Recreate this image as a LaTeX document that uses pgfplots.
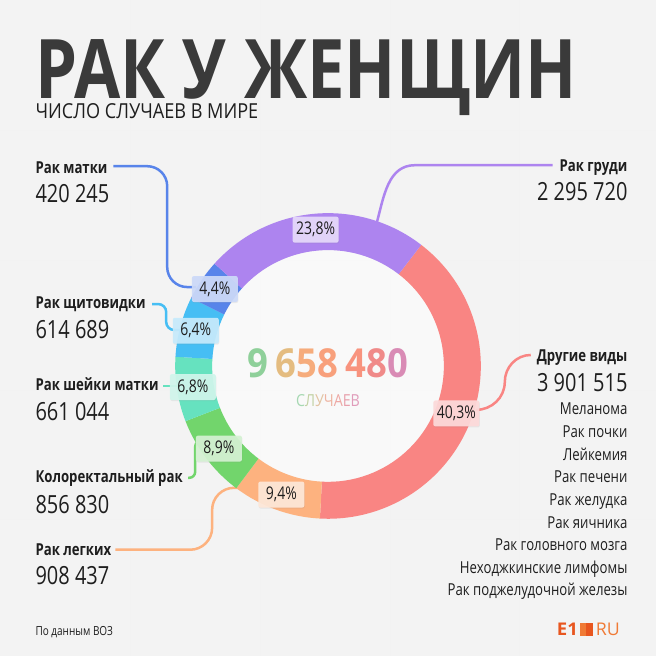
\documentclass[border=0pt]{standalone}
\usepackage{pgfplots}
\pgfplotsset{compat=1.18}
\usepackage{pgfplotstable}
\usepackage{fontspec}
\usepackage{graphicx}
\setmainfont{Open Sans}[FakeStretch=0.8]
\usetikzlibrary{shadows}

\definecolor{bg}{HTML}{F3F3F3}
\definecolor{ttl}{HTML}{3A3A3A}
\definecolor{txt}{HTML}{1E1E1E}
\definecolor{cOther}{HTML}{F98583}
\definecolor{cLung}{HTML}{FDB27F}
\definecolor{cColo}{HTML}{72D56C}
\definecolor{cCerv}{HTML}{66E2BF}
\definecolor{cThyr}{HTML}{46BEF4}
\definecolor{cUter}{HTML}{5884EA}
\definecolor{cBreast}{HTML}{AD84EF}
\definecolor{eone}{HTML}{E8561F}
\definecolor{etwo}{HTML}{F07A35}

% cases of cancer in women (world), clockwise from the top-right
\pgfplotstableread{
key value
Other 3901515
Lung 908437
Colo 856830
Cerv 661044
Thyr 614689
Uter 420245
Breast 2295720
}\cancertable

\gdef\total{0}
\pgfplotstableforeachcolumnelement{value}\of\cancertable\as\v{\xdef\total{\fpeval{\total+\v}}}
\gdef\cur{52.4}
\newcommand\setangle[2]{%
  \pgfplotstablegetelem{#1}{value}\of\cancertable
  \edef\tmpv{\pgfplotsretval}%
  \expandafter\xdef\csname s#2\endcsname{\cur}%
  \xdef\cur{\fpeval{\cur-360*\tmpv/\total}}%
  \expandafter\xdef\csname e#2\endcsname{\cur}%
  \expandafter\xdef\csname m#2\endcsname{\fpeval{(\csname s#2\endcsname+\cur)/2}}%
}
\setangle{0}{Other}\setangle{1}{Lung}\setangle{2}{Colo}\setangle{3}{Cerv}
\setangle{4}{Thyr}\setangle{5}{Uter}\setangle{6}{Breast}

\def\cx{328}\def\cy{366}
\def\Ro{153bp}\def\Ri{116bp}\def\thick{37bp}
\newcommand\seg[2]{%
  \fill[#2] (axis cs:\cx,\cy) ++(\csname s#1\endcsname:\Ro)
    arc[start angle=\csname s#1\endcsname, end angle=\csname e#1\endcsname, radius=\Ro]
    -- ++(\csname e#1\endcsname+180:\thick)
    arc[start angle=\csname e#1\endcsname, end angle=\csname s#1\endcsname, radius=\Ri] -- cycle;}
\newcommand\plabel[3]{%
  \path (axis cs:\cx,\cy) ++(\csname m#1\endcsname:137bp) node[fill=white!70!#2, fill opacity=0.92, text opacity=1,
    rounded corners=2bp, minimum width=46bp, minimum height=26bp, inner sep=0pt, text=txt,
    drop shadow={opacity=0.12, shadow xshift=0.5bp, shadow yshift=-1bp},
    font=\fontsize{17.5bp}{19bp}\selectfont] {#3};}
\newcommand\lab[3]{\node[anchor=base #1, inner sep=0pt, text=txt, font=\fontsize{16.5bp}{18bp}\selectfont\bfseries] at (axis cs:#2) {#3};}
\newcommand\val[3]{\node[anchor=base #1, inner sep=0pt, text=txt, font=\fontsize{25bp}{28bp}\selectfont] at (axis cs:#2) {#3};}
\newcommand\itm[2]{\node[anchor=base east, inner sep=0pt, text=txt, font=\fontsize{16.5bp}{18bp}\selectfont] at (axis cs:628,#1) {#2};}

\begin{document}
\begin{tikzpicture}
\begin{axis}[
  x=1bp, y=1bp, y dir=reverse,
  xmin=0, xmax=656, ymin=0, ymax=656,
  hide axis, clip=false,
]
\fill[bg] (axis cs:0,0) rectangle (axis cs:656,656);
% faint background grid
\draw[black!5, line width=0.8bp] (axis cs:130,0) -- (axis cs:130,656) (axis cs:260,0) -- (axis cs:260,656)
  (axis cs:390,0) -- (axis cs:390,656) (axis cs:520,0) -- (axis cs:520,656)
  (axis cs:0,130) -- (axis cs:656,130) (axis cs:0,260) -- (axis cs:656,260)
  (axis cs:0,390) -- (axis cs:656,390) (axis cs:0,520) -- (axis cs:656,520);

% title
\node[anchor=base west, inner sep=0pt, text=ttl] at (axis cs:35,98)
  {\raisebox{0pt}[\height][0pt]{\resizebox{542bp}{59bp}{\bfseries РАК У ЖЕНЩИН}}};
\node[anchor=base west, inner sep=0pt, text=txt] at (axis cs:35,118)
  {\resizebox{223bp}{15bp}{ЧИСЛО СЛУЧАЕВ В МИРЕ}};

% leader lines
\draw[cUter, line width=2.5bp, rounded corners=20bp] (axis cs:113,166) -- (axis cs:167,166) -- (axis cs:167,287) -- (axis cs:196,287);
\draw[cThyr, line width=2.5bp, rounded corners=8bp] (axis cs:152,304) -- (axis cs:166,304) -- (axis cs:166,330) -- (axis cs:184,330);
\draw[cCerv, line width=2.5bp] (axis cs:163,386) -- (axis cs:178,386);
\draw[cColo, line width=2.5bp, rounded corners=6bp] (axis cs:188,478) -- (axis cs:195,478) -- (axis cs:195,441) -- (axis cs:203,441);
\draw[cLung, line width=2.5bp, rounded corners=22bp] (axis cs:115,550) -- (axis cs:212,550) -- (axis cs:212,488) -- (axis cs:246,488);
\draw[cBreast, line width=2.5bp] (axis cs:553,165) -- (axis cs:415,165) to[out=180,in=75] (axis cs:377,222);
\draw[cOther, line width=2.5bp] (axis cs:531,355) to[out=180,in=90] (axis cs:505,382) to[out=270,in=0] (axis cs:476,410);

% donut
\fill[white, opacity=0.5] (axis cs:\cx,\cy) circle[radius=\Ri];
\seg{Other}{cOther}
\seg{Lung}{cLung}
\seg{Colo}{cColo}
\seg{Cerv}{cCerv}
\seg{Thyr}{cThyr}
\seg{Uter}{cUter}
\seg{Breast}{cBreast}

\plabel{Other}{cOther}{40,3\%}
\plabel{Lung}{cLung}{9,4\%}
\plabel{Colo}{cColo}{8,9\%}
\plabel{Cerv}{cCerv}{6,8\%}
\plabel{Thyr}{cThyr}{6,4\%}
\plabel{Uter}{cUter}{4,4\%}
\plabel{Breast}{cBreast}{23,8\%}

% centre total
\node[anchor=base, inner sep=0pt] at (axis cs:327.5,378)
  {\resizebox{161bp}{29bp}{\bfseries\textcolor[HTML]{8FD09A}{9}\,\textcolor[HTML]{E4BC80}{6}\textcolor[HTML]{F6AC7C}{5}\textcolor[HTML]{F8A07C}{8}\,\textcolor[HTML]{F8937E}{4}\textcolor[HTML]{F08A89}{8}\textcolor[HTML]{D98BB5}{0}}};
\node[anchor=base, inner sep=0pt] at (axis cs:328,407)
  {\resizebox{64bp}{12bp}{\textcolor[HTML]{A6D8B2}{С}\textcolor[HTML]{C2D2A4}{Л}\textcolor[HTML]{E2C4A2}{У}\textcolor[HTML]{EEB4A2}{Ч}\textcolor[HTML]{EEA8A4}{А}\textcolor[HTML]{E8A0AC}{Е}\textcolor[HTML]{E09CBA}{В}}};

% left labels
\lab{west}{35,173}{Рак матки}
\val{west}{35,202}{420 245}
\lab{west}{35,308}{Рак щитовидки}
\val{west}{35,339}{614 689}
\lab{west}{35,391}{Рак шейки матки}
\val{west}{35,421}{661 044}
\lab{west}{35,483}{Колоректальный рак}
\val{west}{35,514}{856 830}
\lab{west}{35,556}{Рак легких}
\val{west}{35,585}{908 437}

% right labels
\lab{east}{628,171}{Рак груди}
\val{east}{628,200}{2 295 720}
\lab{east}{628,362}{Другие виды}
\val{east}{628,392}{3 901 515}
\itm{415}{Меланома}
\itm{437.7}{Рак почки}
\itm{460.3}{Лейкемия}
\itm{483}{Рак печени}
\itm{505.7}{Рак желудка}
\itm{528.3}{Рак яичника}
\itm{551}{Рак головного мозга}
\itm{573.7}{Неходжкинские лимфомы}
\itm{596.3}{Рак поджелудочной железы}

% footer
\node[anchor=base west, inner sep=0pt, text=txt, font=\fontsize{12.5bp}{14bp}\selectfont] at (axis cs:35,636) {По данным ВОЗ};
\node[anchor=base west, inner sep=0pt, text=eone] at (axis cs:557,636) {\resizebox{21bp}{12.5bp}{\bfseries E1}};
\fill[etwo] (axis cs:580,623.5) rectangle (axis cs:586.5,636);
\fill[eone] (axis cs:586.5,623.5) rectangle (axis cs:593,636);
\node[anchor=base west, inner sep=0pt, text=etwo] at (axis cs:596,636) {\resizebox{24bp}{12.5bp}{RU}};
\end{axis}
\end{tikzpicture}
\end{document}
